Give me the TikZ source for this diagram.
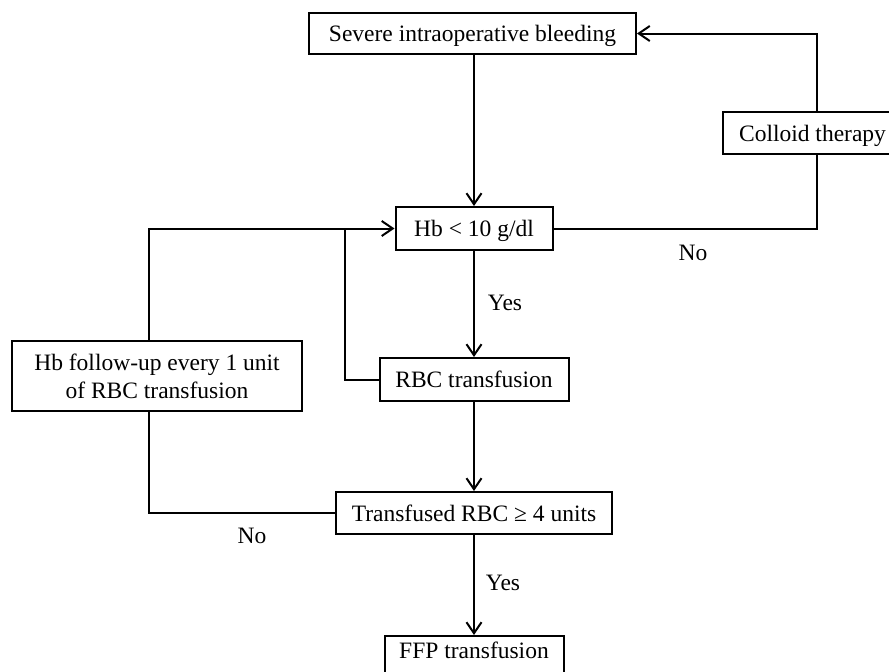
\documentclass[tikz,border=0pt]{standalone}
\usepackage{fontspec}
\setmainfont{Liberation Serif}
\usetikzlibrary{arrows.meta}
\tikzset{
  box/.style={draw, line width=2pt, inner sep=0pt, text height=16pt, text depth=0pt},
  lbl/.style={inner sep=0pt, text height=16pt, text depth=0pt},
  conn/.style={line width=2pt},
  arr/.style={conn, -{Straight Barb[length=11pt,width=15pt,line width=2pt]}}
}
\begin{document}
\begin{tikzpicture}[x=1pt,y=-1pt,font=\fontsize{23.5pt}{28pt}\selectfont]
\clip (0,0) rectangle (889,672);
\node[box, minimum width=327pt, minimum height=41pt] (sev) at (472.5,33.5) {Severe intraoperative bleeding};
\node[box, minimum width=157pt, minimum height=43pt] (hb) at (474,228.5) {Hb < 10 g/dl};
\node[box, minimum width=179pt, minimum height=42pt] (col) at (812.5,133) {Colloid therapy};
\node[draw, line width=2pt, inner sep=0pt, align=center, minimum width=290pt, minimum height=70pt] (fol) at (157,376) {Hb follow-up every 1 unit\\of RBC transfusion};
\node[box, minimum width=189pt, minimum height=43pt] (rbc) at (474,379.5) {RBC transfusion};
\node[box, minimum width=276pt, minimum height=42pt] (tra) at (474,513) {Transfused RBC ≥ 4 units};
\node[draw, line width=2pt, inner sep=0pt, text height=22pt, text depth=25pt, minimum width=179pt, anchor=north] (ffp) at (474,635) {FFP transfusion};

\coordinate (cr) at (817,228.5);
\coordinate (lj) at (345,228.5);
\coordinate (ln) at (149,228.5);

\draw[arr] (hb.north |- sev.south) -- (hb.north);
\draw[conn] (hb.east) -- (cr) -- (cr |- col.south);
\draw[arr] (cr |- col.north) |- (sev.east);
\draw[arr] (hb.south) -- (rbc.north);
\draw[arr] (rbc.west) -| (lj) -- (hb.west);
\draw[conn] (ln |- fol.north) -- (ln) -- (lj);
\draw[arr] (rbc.south) -- (tra.north);
\draw[conn] (tra.west) -| (ln |- fol.south);
\draw[arr] (tra.south) -- (ffp.north);

\node[lbl] (no1) at (693,252) {No};
\node[lbl] (yes1) at (505,302) {Yes};
\node[lbl] (no2) at (252,535) {No};
\node[lbl] (yes2) at (503,582) {Yes};
\end{tikzpicture}
\end{document}
